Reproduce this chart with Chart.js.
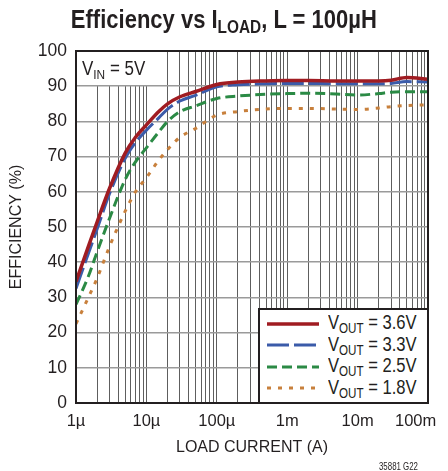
<!DOCTYPE html>
<html>
<head>
<meta charset="utf-8">
<script src="https://cdn.jsdelivr.net/npm/chart.js@4.4.1/dist/chart.umd.min.js"></script>
<style>
  body { margin: 0; background: #fff; }
  #wrap {
    position: relative; width: 448px; height: 471px; overflow: hidden;
    font-family: "Liberation Sans", Arial, sans-serif;
    color: #231f20;
  }
  #chart { position: absolute; left: 0; top: 0; }
  .sub { font-size: 70%; vertical-align: -0.3em; }
  .cond { display: inline-block; white-space: nowrap; }
  #title {
    position: absolute; left: 0; top: 5px; width: 448px; text-align: center;
    font-weight: bold; font-size: 25px;
  }
  #title .cond { transform: scaleX(0.88); transform-origin: center; }
  #vin {
    position: absolute; left: 77px; top: 52px; width: 73px; height: 33px;
    background: #fff; font-size: 19.5px; line-height: 32px; padding-left: 5px; box-sizing: border-box;
    white-space: nowrap;
  }
  #vin .cond { transform: scaleX(0.87); transform-origin: left center; }
  #legend {
    position: absolute; left: 258px; top: 308px; width: 171px; height: 96px;
    background: #fff; border: 2px solid #231f20; box-sizing: border-box; padding-top: 3px;
  }
  .row { display: flex; align-items: center; height: 21.5px; font-size: 20px; white-space: nowrap; }
  .row svg { margin-left: 7px; margin-right: 9px; flex: none; }
  .row .cond { transform: scaleX(0.83); transform-origin: left center; }
  #code {
    position: absolute; right: 30px; top: 460px; font-size: 10.5px;
    transform: scaleX(0.75); transform-origin: right center;
  }
</style>
</head>
<body>
<div id="wrap">
  <canvas id="chart" width="448" height="471"></canvas>
  <div id="title"><span class="cond">Efficiency vs I<span class="sub">LOAD</span>, L = 100µH</span></div>
  <div id="vin"><span class="cond">V<span class="sub">IN</span> = 5V</span></div>
  <div id="legend"></div>
  <div id="code">35881 G22</div>
</div>
<script>
// load current (A)
const currents = [1e-6, 1.5e-6, 2e-6, 3e-6, 5e-6, 7e-6, 1e-5, 1.5e-5, 2e-5, 3e-5, 5e-5,
  1e-4, 2e-4, 5e-4, 1e-3, 2e-3, 5e-3, 1e-2, 2e-2, 3e-2, 5e-2, 1e-1];

// efficiency (%)
const eff36 = [34.5, 44.5, 51.5, 61, 71, 75.5, 79, 82.8, 85, 87, 88.5,
  90.5, 91.2, 91.5, 91.6, 91.6, 91.5, 91.5, 91.5, 91.7, 92.5, 92];
const eff33 = [32.5, 42.5, 49.5, 59.5, 69.5, 74, 77.5, 81, 83.5, 85.8, 87.4,
  89.8, 90.4, 90.7, 90.8, 90.8, 90.7, 90.7, 90.7, 90.8, 91.3, 91.2];
const eff25 = [28, 36, 43, 52.5, 63.5, 68.5, 72.5, 77, 80, 82.8, 84.4,
  86.5, 87.2, 87.7, 87.9, 88, 87.8, 87.5, 87.9, 88.3, 88.4, 88.4];
const eff18 = [22.5, 30, 35.5, 44.5, 54.5, 60, 64, 69, 72, 75.5, 78,
  81.8, 82.8, 83.5, 83.7, 83.7, 83.5, 83.4, 83.8, 84.2, 84.5, 84.7];

const seriesNames = ["3.6V", "3.3V", "2.5V", "1.8V"];
const seriesValues = [eff36, eff33, eff25, eff18];
const seriesColors = ["#a01c22", "#3b5ba9", "#2b8a45", "#c8803c"];
const seriesDash = [[], [22, 5], [10, 5], [4, 7]];
const seriesWidth = [3.5, 3, 3, 3];

// axis ticks
const decades = [1e-6, 1e-5, 1e-4, 1e-3, 1e-2, 1e-1];
const decadeLabels = ["1µ", "10µ", "100µ", "1m", "10m", "100m\u2002\u2002\u2002"];
const minorSteps = [1, 2, 3, 4, 5, 6, 7, 8, 9];

const xTicks = [];
decades.forEach((d, i) => {
  if (i === decades.length - 1) {
    xTicks.push({ value: d, label: decadeLabels[i] });
    return;
  }
  minorSteps.forEach((m) => {
    xTicks.push({ value: d * m, label: m === 1 ? decadeLabels[i] : "" });
  });
});

const fontFamily = "'Liberation Sans', Arial, sans-serif";

// legend (HTML so the subscripts stay real text)
const legend = document.getElementById("legend");
seriesNames.forEach((name, i) => {
  const row = document.createElement("div");
  row.className = "row";
  row.innerHTML =
    `<svg width="52" height="6"><line x1="0" y1="3" x2="52" y2="3" stroke="${seriesColors[i]}" ` +
    `stroke-width="${seriesWidth[i]}" stroke-dasharray="${seriesDash[i].join(" ") || "none"}"/></svg>` +
    `<span class="cond">V<span class="sub">OUT</span> = ${name}</span>`;
  legend.appendChild(row);
});

const framePlugin = {
  id: "frame",
  afterDatasetsDraw(chart) {
    const { ctx, chartArea } = chart;
    ctx.save();
    ctx.strokeStyle = "#231f20";
    ctx.lineWidth = 2;
    ctx.strokeRect(chartArea.left, chartArea.top, chartArea.right - chartArea.left, chartArea.bottom - chartArea.top);
    ctx.restore();
  }
};

new Chart(document.getElementById("chart"), {
  type: "line",
  data: {
    datasets: seriesNames.map((name, i) => ({
      label: "VOUT = " + name,
      data: currents.map((x, j) => ({ x, y: seriesValues[i][j] })),
      borderColor: seriesColors[i],
      backgroundColor: seriesColors[i],
      borderWidth: seriesWidth[i],
      borderDash: seriesDash[i],
      pointRadius: 0,
      cubicInterpolationMode: "monotone",
      fill: false
    }))
  },
  options: {
    responsive: false,
    animation: false,
    devicePixelRatio: 1,
    layout: { padding: { top: 51, right: 20, left: 0, bottom: 0 } },
    plugins: { legend: { display: false }, tooltip: { enabled: false } },
    scales: {
      x: {
        type: "logarithmic",
        min: 1e-6,
        max: 1e-1,
        afterBuildTicks(scale) {
          scale.ticks = xTicks.map((t) => ({ value: t.value, major: t.label !== "" }));
        },
        afterFit(scale) {
          scale.height = 68;
          scale.paddingLeft = 0;
          scale.paddingRight = 0;
        },
        ticks: {
          autoSkip: false,
          maxRotation: 0,
          padding: 9,
          color: "#231f20",
          font: { family: fontFamily, size: 16.5 },
          callback: (value, index) => xTicks[index] ? xTicks[index].label : ""
        },
        grid: { color: "#5e5e5e", lineWidth: 1, drawTicks: false },
        border: { display: true, color: "#231f20", width: 2 },
        title: {
          display: true,
          text: "LOAD CURRENT (A)",
          color: "#231f20",
          font: { family: fontFamily, size: 16 },
          padding: { top: 0, bottom: 14 }
        }
      },
      y: {
        min: 0,
        max: 100,
        afterFit(scale) {
          scale.width = 76;
          scale.paddingTop = 0;
          scale.paddingBottom = 0;
        },
        ticks: {
          stepSize: 10,
          padding: 9,
          color: "#231f20",
          font: { family: fontFamily, size: 17.5 }
        },
        grid: { color: "#9a9a9a", lineWidth: 1.5, drawTicks: false },
        border: { display: true, color: "#231f20", width: 2 },
        title: {
          display: true,
          text: "EFFICIENCY (%)",
          color: "#231f20",
          font: { family: fontFamily, size: 16 },
          padding: { top: 7, bottom: 0 }
        }
      }
    }
  },
  plugins: [framePlugin]
});
</script>
</body>
</html>
